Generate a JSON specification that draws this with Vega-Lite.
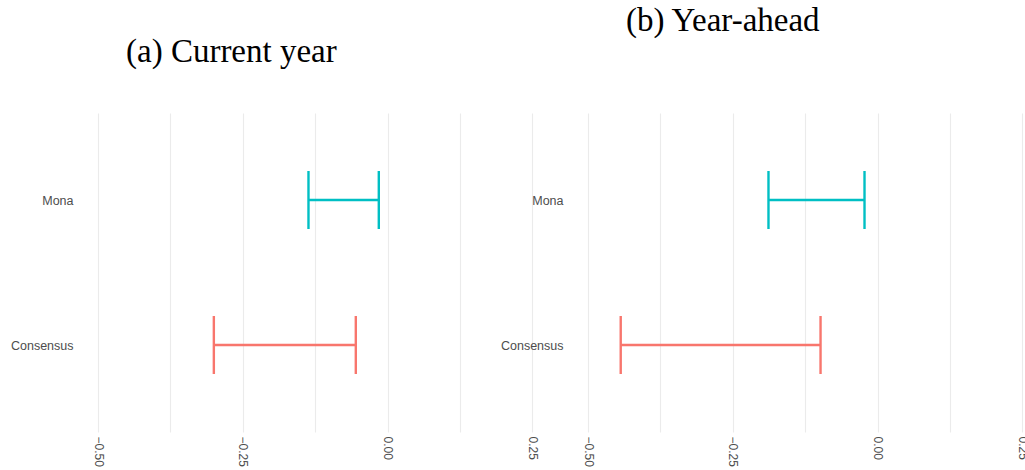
{
  "$schema": "https://vega.github.io/schema/vega-lite/v6.json",
  "background": "white",
  "padding": {"left": 10, "top": 5, "right": 0, "bottom": 0},
  "bounds": "flush",
  "spacing": 55,
  "datasets": {
    "ranges": [
      {"panel": "a", "forecaster": "Mona", "lo": -0.1366, "hi": -0.0152},
      {"panel": "a", "forecaster": "Consensus", "lo": -0.300, "hi": -0.0549},
      {"panel": "b", "forecaster": "Mona", "lo": -0.1884, "hi": -0.0226},
      {"panel": "b", "forecaster": "Consensus", "lo": -0.4435, "hi": -0.0985}
    ]
  },
  "config": {
    "view": {"stroke": null},
    "title": {"font": "Liberation Serif", "fontSize": 33, "fontWeight": "normal", "color": "#000000", "anchor": "start", "frame": "group", "baseline": "alphabetic"},
    "axisX": {
      "grid": true, "gridColor": "#ebebeb", "gridWidth": 1.1,
      "domain": false, "ticks": false, "labelAngle": 90, "labelPadding": 4,
      "labelFont": "Liberation Sans", "labelFontSize": 12, "labelColor": "#4d4d4d", "title": null
    },
    "axisY": {
      "domain": false, "ticks": false, "grid": false, "labelPadding": 25,
      "labelFont": "Liberation Sans", "labelFontSize": 12.5, "labelColor": "#4d4d4d", "title": null
    }
  },
  "hconcat": [
    {
      "title": {"text": "(a) Current year", "dx": 28, "offset": 44},
      "width": 434.4, "height": 319,
      "data": {"name": "ranges"},
      "transform": [{"filter": "datum.panel == 'a'"}],
      "encoding": {
        "y": {"field": "forecaster", "type": "nominal", "scale": {"type": "point", "padding": 0.6, "domain": ["Mona", "Consensus"]}},
        "color": {"field": "forecaster", "type": "nominal", "scale": {"domain": ["Consensus", "Mona"], "range": ["#F8766D", "#00BFC4"]}, "legend": null}
      },
      "layer": [
        {"mark": {"type": "rule", "strokeWidth": 2.4}, "encoding": {"x": {"field": "lo", "type": "quantitative", "scale": {"domain": [-0.5, 0.25], "nice": false, "zero": false}, "axis": {"values": [-0.5, -0.375, -0.25, -0.125, 0, 0.125, 0.25], "labelExpr": "abs(datum.value*4 - round(datum.value*4)) < 0.001 ? replace(format(datum.value, '.2f'), '-', '\u2212') : ''"}}, "x2": {"field": "hi"}}},
        {"mark": {"type": "tick", "size": 58, "thickness": 2.4, "opacity": 1}, "encoding": {"x": {"field": "lo", "type": "quantitative"}}},
        {"mark": {"type": "tick", "size": 58, "thickness": 2.4, "opacity": 1}, "encoding": {"x": {"field": "hi", "type": "quantitative"}}}
      ]
    },
    {
      "title": {"text": "(b) Year-ahead", "dx": 38, "offset": 75},
      "width": 434.4, "height": 319,
      "data": {"name": "ranges"},
      "transform": [{"filter": "datum.panel == 'b'"}],
      "encoding": {
        "y": {"field": "forecaster", "type": "nominal", "scale": {"type": "point", "padding": 0.6, "domain": ["Mona", "Consensus"]}},
        "color": {"field": "forecaster", "type": "nominal", "scale": {"domain": ["Consensus", "Mona"], "range": ["#F8766D", "#00BFC4"]}, "legend": null}
      },
      "layer": [
        {"mark": {"type": "rule", "strokeWidth": 2.4}, "encoding": {"x": {"field": "lo", "type": "quantitative", "scale": {"domain": [-0.5, 0.25], "nice": false, "zero": false}, "axis": {"values": [-0.5, -0.375, -0.25, -0.125, 0, 0.125, 0.25], "labelExpr": "abs(datum.value*4 - round(datum.value*4)) < 0.001 ? replace(format(datum.value, '.2f'), '-', '\u2212') : ''"}}, "x2": {"field": "hi"}}},
        {"mark": {"type": "tick", "size": 58, "thickness": 2.4, "opacity": 1}, "encoding": {"x": {"field": "lo", "type": "quantitative"}}},
        {"mark": {"type": "tick", "size": 58, "thickness": 2.4, "opacity": 1}, "encoding": {"x": {"field": "hi", "type": "quantitative"}}}
      ]
    }
  ]
}
